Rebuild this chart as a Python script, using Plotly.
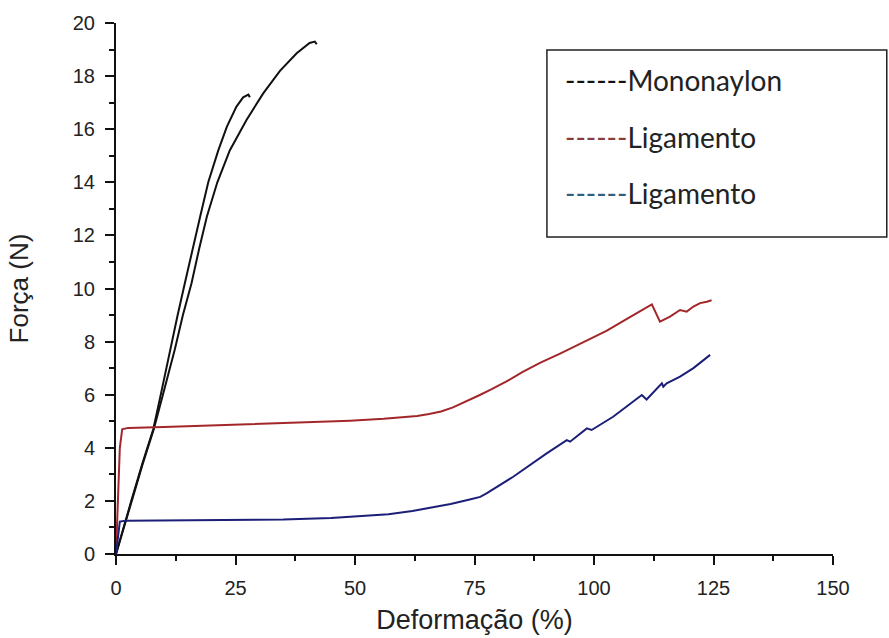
import plotly.graph_objects as go

# ---- data ----
mono1_x = [0, 1.9, 3.2, 5.5, 7.8, 9.6, 11.3, 12.9, 14.4, 16.0, 17.6, 19.3, 21.4, 23.2, 25.2, 26.6, 27.7, 28.0]
mono1_y = [0, 1.25, 2.0, 3.4, 4.7, 6.2, 7.7, 9.0, 10.2, 11.5, 12.7, 14.0, 15.2, 16.1, 16.85, 17.2, 17.3, 17.2]

mono2_x = [0, 1.9, 3.3, 5.6, 7.9, 10.1, 12.3, 14.0, 15.8, 17.4, 19.0, 21.2, 23.8, 27.3, 30.8, 34.3, 37.8, 40.5, 41.6, 42.0]
mono2_y = [0, 1.2, 2.0, 3.4, 4.7, 6.2, 7.7, 9.0, 10.2, 11.5, 12.7, 14.0, 15.2, 16.35, 17.35, 18.2, 18.86, 19.25, 19.3, 19.2]

lig_red_x = [0, 0.3, 0.8, 1.3, 2.5, 10, 24.5, 35, 49, 56, 60, 63, 65.5, 68, 70.5, 73, 76, 78.5, 81.7, 85, 88.7,
             92.9, 95.7, 99.9, 102.6, 106.8, 112.1, 113.8, 115.9, 118.0, 119.4, 120.8, 122.2, 123.6, 124.6]
lig_red_y = [0, 1.5, 4.0, 4.7, 4.75, 4.78, 4.86, 4.93, 5.02, 5.09, 5.15, 5.2, 5.27, 5.37, 5.52, 5.72, 5.98, 6.2,
             6.5, 6.85, 7.2, 7.55, 7.8, 8.15, 8.4, 8.85, 9.4, 8.75, 8.94, 9.19, 9.13, 9.32, 9.45, 9.5, 9.56]

lig_blue_x = [0, 0.8, 2.0, 24.5, 35, 45, 52, 57, 62, 66, 70, 74, 76.2, 77.6, 83.1, 90.1, 94.3, 95.0, 98.5, 99.5,
              104.0, 110.0, 111.0, 114.2, 114.5, 115.2, 118.0, 120.8, 124.3]
lig_blue_y = [0, 1.22, 1.25, 1.28, 1.3, 1.36, 1.43, 1.5, 1.62, 1.74, 1.88, 2.05, 2.15, 2.29, 2.91, 3.79, 4.29,
              4.23, 4.73, 4.67, 5.17, 5.99, 5.82, 6.43, 6.3, 6.43, 6.68, 7.0, 7.5]

legend_names = ["Mononaylon", "Ligamento", "Ligamento"]
legend_colors = ["#111111", "#8a3b3b", "#2f5f7f"]

x_ticks = [0, 25, 50, 75, 100, 125, 150]
y_ticks = [0, 2, 4, 6, 8, 10, 12, 14, 16, 18, 20]

fig = go.Figure()
fig.add_trace(go.Scatter(x=mono1_x, y=mono1_y, mode="lines", name=legend_names[0],
                         line=dict(color="#111111", width=2), showlegend=False))
fig.add_trace(go.Scatter(x=mono2_x, y=mono2_y, mode="lines", name=legend_names[0],
                         line=dict(color="#111111", width=2), showlegend=False))
fig.add_trace(go.Scatter(x=lig_red_x, y=lig_red_y, mode="lines", name=legend_names[1],
                         line=dict(color="#a3262a", width=2), showlegend=False))
fig.add_trace(go.Scatter(x=lig_blue_x, y=lig_blue_y, mode="lines", name=legend_names[2],
                         line=dict(color="#1c1f78", width=2), showlegend=False))

# legend box drawn as shape + text annotations
fig.add_shape(type="rect", xref="paper", yref="paper", x0=0.601, x1=1.075, y0=0.597, y1=0.949,
              line=dict(color="#222222", width=1.5), fillcolor="rgba(255,255,255,0)")
row_y = [0.893, 0.785, 0.680]
for name, col, yy in zip(legend_names, legend_colors, row_y):
    fig.add_annotation(xref="paper", yref="paper", x=(563 - 116) / 717, y=yy, xanchor="left", yanchor="middle",
                       showarrow=False, align="left",
                       text=f'<span style="color:{col}">------</span>{name}',
                       font=dict(family="Lato", size=28, color="#222222"))

axis_common = dict(showline=True, linecolor="#111111", linewidth=2, ticks="outside", ticklen=9, tickwidth=2,
                   tickcolor="#111111", showgrid=False, zeroline=False, mirror=False,
                   tickfont=dict(family="Liberation Sans, Arial", size=20, color="#222222"),
                   automargin=False)

fig.update_xaxes(range=[0, 150], tickvals=x_ticks, ticklabelstandoff=6,
                 minor=dict(dtick=12.5, tick0=0, ticks="outside", ticklen=5, tickwidth=2, tickcolor="#111111"),
                 title=dict(text="Deformação (%)", standoff=12,
                            font=dict(family="Liberation Sans, Arial", size=27, color="#222222")),
                 **axis_common)
fig.update_yaxes(range=[0, 20], tickvals=y_ticks, ticklabelstandoff=6,
                 minor=dict(dtick=1, tick0=0, ticks="outside", ticklen=5, tickwidth=2, tickcolor="#111111"),
                 title=dict(text="Força (N)", standoff=37,
                            font=dict(family="Liberation Sans, Arial", size=26, color="#222222")),
                 **axis_common)

fig.update_layout(width=889, height=638, margin=dict(l=116, r=56, t=23, b=84),
                  plot_bgcolor="white", paper_bgcolor="white", showlegend=False)

fig.write_html("out.html", config={"displayModeBar": False},
               post_script="document.body.style.margin='0';document.body.style.overflow='hidden';")
